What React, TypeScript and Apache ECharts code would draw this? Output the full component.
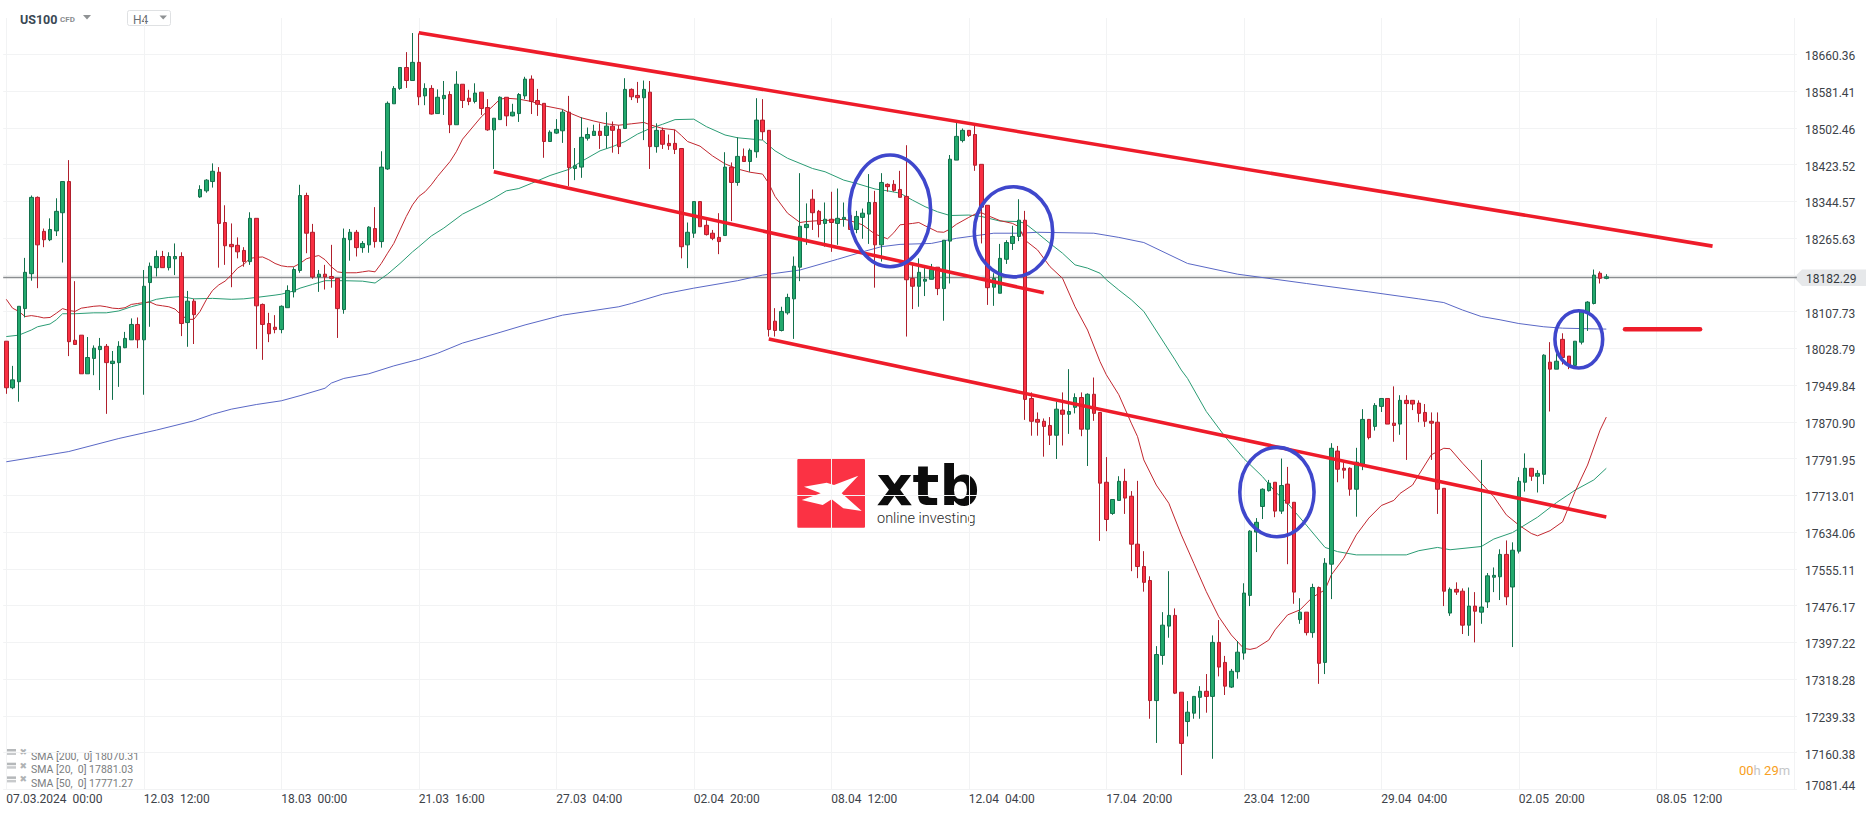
import React, { useEffect, useRef } from "react";
import * as echarts from "echarts";

const FONT = "Roboto, sans-serif";
const BAR_COUNT = 287;

const timeLabels = ["07.03.2024  00:00","12.03  12:00","18.03  00:00","21.03  16:00","27.03  04:00","02.04  20:00","08.04  12:00","12.04  04:00","17.04  20:00","23.04  12:00","29.04  04:00","02.05  20:00","08.05  12:00"];
const TIME_STEP = 22;

const gridValues = [17081.44,17160.38,17239.33,17318.28,17397.22,17476.17,17555.11,17634.06,17713.01,17791.95,17870.90,17949.84,18028.79,18107.73,18186.68,18265.63,18344.57,18423.52,18502.46,18581.41,18660.36];
const priceLabels = gridValues.filter((v) => v !== 18186.68);
const LAST_PRICE = 18182.29;

const opens = [18044,17944,17957,18114,18189,18353,18280,18262,18281,18320,
18387,18046,18057,17974,18007,18026,18033,17996,17998,18030,
18047,18080,18047,18170,18202,18226,18202,18221,18226,18084,
18130,18354,18367,18387,18407,18299,18252,18250,18239,18215,
18308,18123,18082,18074,18069,18116,18150,18196,18357,18278,
18182,18188,18183,18179,18112,18262,18278,18245,18251,18286,
18258,18414,18554,18587,18632,18604,18643,18571,18587,18533,
18565,18574,18509,18596,18566,18559,18579,18546,18498,18520,
18568,18528,18533,18571,18607,18561,18555,18473,18491,18496,
18536,18415,18418,18480,18486,18495,18486,18506,18499,18501,
18585,18572,18567,18579,18462,18497,18469,18469,18458,18251,
18276,18344,18293,18276,18267,18271,18418,18385,18441,18430,
18451,18519,18497,18087,18067,18105,18135,18203,18288,18349,
18323,18297,18306,18297,18306,18314,18284,18310,18317,18342,
18251,18381,18381,18370,18355,18179,18162,18173,18177,18203,
18157,18259,18433,18475,18497,18488,18424,18336,18160,18147,
18220,18254,18269,18304,17921,17876,17872,17863,17842,17896,
17887,17902,17923,17855,17930,17891,17741,17674,17702,17743,
17711,17608,17560,17530,17272,17369,17432,17455,17290,17227,
17245,17279,17292,17281,17397,17354,17301,17334,17374,17498,
17634,17689,17723,17741,17679,17737,17698,17446,17462,17418,
17515,17354,17565,17808,17771,17771,17726,17780,17876,17861,
17904,17921,17868,17866,17917,17917,17911,17891,17872,17870,
17728,17460,17511,17507,17434,17475,17462,17484,17537,17538,
17586,17516,17593,17741,17771,17754,17758,17999,17984,18048,
18012,17992,18042,18106,18125,18190,18179];

const closes = [17944,17961,18119,18192,18353,18251,18262,18284,18323,18387,
18043,18037,17974,18009,18029,18033,17998,18001,18033,18050,
18080,18047,18162,18205,18226,18202,18226,18226,18082,18130,
18101,18370,18390,18409,18297,18249,18247,18236,18215,18308,
18120,18080,18060,18069,18119,18153,18198,18357,18276,18182,
18188,18182,18179,18114,18265,18278,18245,18254,18289,18258,
18418,18555,18587,18632,18604,18643,18569,18587,18532,18568,
18572,18509,18596,18561,18559,18577,18544,18498,18523,18568,
18528,18536,18574,18607,18559,18553,18473,18493,18499,18536,
18417,18421,18482,18488,18495,18486,18506,18497,18462,18585,
18569,18567,18585,18462,18497,18467,18464,18456,18247,18278,
18344,18290,18273,18265,18258,18418,18385,18441,18430,18454,
18519,18494,18069,18067,18108,18138,18205,18291,18295,18320,
18295,18306,18299,18308,18310,18284,18312,18319,18342,18251,
18385,18376,18368,18353,18176,18162,18192,18177,18198,18157,
18261,18435,18484,18497,18486,18422,18332,18159,18179,18222,
18256,18269,18304,17919,17872,17870,17861,17842,17898,17887,
17893,17923,17855,17930,17889,17739,17661,17704,17743,17707,
17608,17560,17526,17272,17371,17434,17455,17288,17180,17247,
17281,17292,17281,17397,17344,17303,17335,17376,17503,17636,
17655,17726,17739,17679,17734,17696,17505,17462,17418,17515,
17352,17567,17814,17769,17767,17726,17784,17876,17837,17906,
17921,17866,17863,17917,17910,17909,17889,17872,17868,17726,
17507,17511,17505,17434,17475,17464,17473,17540,17541,17586,
17495,17595,17743,17771,17754,17760,18014,17984,18001,18009,
17992,18044,18108,18128,18186,18179,18182.29];

const lows = [17931,17941,17914,18095,18174,18158,18246,18259,18270,18213,
18012,18037,17974,17974,17971,17939,17888,17918,17946,18029,
18047,18029,17929,18075,18183,18202,18196,18186,18055,18032,
18038,18352,18363,18374,18202,18208,18160,18222,18204,18208,
18027,18004,18042,18061,18061,18116,18138,18191,18233,18178,
18150,18155,18159,18051,18103,18217,18226,18234,18234,18245,
18245,18412,18554,18584,18588,18604,18551,18551,18531,18533,
18530,18491,18509,18545,18551,18555,18530,18496,18414,18520,
18506,18527,18515,18564,18532,18528,18438,18473,18489,18470,
18377,18390,18395,18475,18486,18457,18458,18449,18446,18500,
18562,18556,18476,18414,18449,18457,18455,18446,18222,18201,
18266,18290,18271,18261,18231,18271,18302,18378,18430,18408,
18438,18476,18054,18054,18065,18101,18049,18173,18251,18283,
18267,18247,18236,18251,18290,18284,18276,18264,18253,18159,
18215,18365,18365,18353,18054,18113,18118,18141,18177,18143,
18088,18168,18433,18471,18483,18410,18254,18122,18120,18147,
18210,18240,18259,17875,17841,17841,17796,17821,17791,17820,
17845,17889,17840,17776,17873,17615,17636,17671,17702,17673,
17550,17535,17506,17233,17181,17349,17407,17286,17112,17195,
17233,17233,17246,17147,17324,17284,17299,17319,17360,17475,
17591,17662,17721,17666,17673,17565,17480,17437,17412,17407,
17308,17329,17490,17741,17749,17712,17667,17767,17833,17852,
17892,17866,17828,17843,17789,17896,17870,17860,17789,17673,
17475,17454,17499,17415,17411,17397,17437,17471,17505,17488,
17477,17387,17588,17721,17744,17719,17737,17893,17984,17994,
17984,17992,18037,18066,18123,18168,18177];

const highs = [18044,17991,18119,18223,18357,18355,18286,18308,18351,18387,
18433,18173,18057,18053,18035,18051,18038,18023,18044,18064,
18093,18095,18197,18213,18239,18238,18235,18254,18235,18152,
18135,18379,18392,18426,18418,18336,18297,18267,18246,18321,
18308,18125,18105,18100,18121,18164,18203,18380,18363,18296,
18197,18208,18251,18179,18286,18285,18283,18259,18291,18332,
18452,18559,18592,18632,18665,18706,18705,18598,18594,18585,
18603,18581,18624,18596,18584,18598,18579,18564,18523,18570,
18568,18554,18577,18612,18615,18586,18555,18497,18521,18542,
18571,18459,18525,18503,18509,18512,18536,18516,18508,18609,
18587,18601,18604,18603,18512,18503,18488,18498,18458,18299,
18344,18344,18304,18283,18319,18450,18428,18482,18458,18458,
18566,18564,18497,18115,18118,18146,18226,18405,18340,18370,
18326,18342,18365,18372,18342,18314,18324,18329,18403,18367,
18405,18383,18390,18410,18465,18208,18222,18201,18210,18203,
18261,18444,18516,18501,18497,18508,18424,18336,18190,18253,
18261,18292,18349,18324,17934,17891,17878,17881,17914,17934,
17984,17932,17934,17932,17966,17891,17795,17704,17754,17770,
17722,17744,17593,17539,17389,17462,17550,17470,17290,17271,
17281,17303,17329,17412,17445,17368,17340,17400,17524,17638,
17664,17728,17746,17741,17792,17774,17698,17492,17462,17523,
17517,17578,17825,17819,17784,17773,17815,17898,17877,17911,
17921,17921,17947,17928,17928,17917,17917,17909,17891,17891,
17728,17515,17526,17513,17515,17505,17789,17546,17558,17597,
17616,17612,17752,17803,17771,17767,18016,18042,18018,18061,
18012,18044,18108,18130,18198,18194,18188];

const sma20Points: number[][] = [[0,18134],[1,18115],[2,18108],[3,18097],[4,18099],[5,18097],[6,18094],[7,18095],[8,18104],[9,18114],[10,18110],[11,18108],[12,18115],[13,18117],[14,18119],[15,18120],[16,18118],[17,18115],[18,18114],[19,18116],[20,18123],[21,18125],[22,18127],[23,18128],[24,18122],[25,18120],[26,18118],[27,18113],[28,18100],[29,18091],[30,18091],[31,18108],[32,18133],[33,18153],[34,18165],[35,18173],[36,18186],[37,18201],[38,18209],[39,18222],[40,18224],[41,18225],[42,18219],[43,18211],[44,18206],[45,18204],[46,18204],[47,18211],[48,18221],[49,18225],[50,18228],[51,18219],[52,18204],[53,18193],[54,18191],[55,18191],[56,18191],[57,18193],[58,18195],[59,18193],[60,18211],[61,18233],[62,18254],[63,18283],[64,18312],[65,18337],[66,18355],[67,18365],[68,18380],[69,18398],[70,18414],[71,18430],[72,18451],[73,18478],[76,18526],[78,18551],[79,18564],[80,18566],[82,18564],[84,18559],[86,18550],[89,18542],[90,18535],[92,18524],[94,18517],[96,18511],[98,18508],[100,18511],[102,18514],[103,18509],[104,18505],[105,18501],[107,18498],[108,18486],[109,18473],[111,18463],[113,18442],[115,18425],[117,18414],[119,18407],[121,18403],[122,18383],[123,18355],[125,18319],[127,18299],[128,18301],[130,18303],[132,18304],[134,18306],[135,18303],[137,18294],[139,18274],[140,18269],[141,18264],[142,18277],[143,18294],[145,18297],[146,18299],[147,18292],[149,18279],[150,18278],[151,18285],[152,18295],[154,18310],[155,18317],[156,18320],[157,18314],[159,18303],[161,18297],[162,18290],[163,18261],[165,18240],[167,18204],[169,18179],[171,18118],[173,18068],[175,18000],[176,17972],[178,17929],[180,17868],[181,17839],[182,17789],[184,17735],[186,17696],[188,17628],[190,17567],[192,17506],[194,17452],[196,17413],[198,17384],[199,17382],[200,17385],[202,17402],[203,17424],[205,17456],[207,17467],[209,17494],[211,17510],[212,17542],[214,17578],[216,17628],[218,17664],[220,17691],[222,17702],[223,17717],[225,17735],[226,17757],[228,17800],[230,17814],[231,17813],[233,17782],[236,17739],[238,17710],[240,17671],[242,17649],[244,17631],[245,17626],[247,17637],[249,17656],[251,17721],[253,17778],[255,17853],[256,17881]];

const sma50Points: number[][] = [[0,18054],[2,18057],[4,18068],[5,18075],[7,18081],[8,18090],[9,18103],[11,18103],[14,18105],[16,18105],[18,18109],[20,18118],[22,18125],[24,18134],[26,18138],[28,18140],[30,18135],[33,18136],[36,18134],[38,18135],[40,18138],[43,18143],[44,18145],[46,18152],[47,18158],[49,18166],[51,18174],[54,18174],[57,18173],[59,18169],[61,18188],[63,18211],[65,18236],[66,18247],[68,18270],[70,18287],[73,18317],[76,18337],[78,18351],[80,18367],[82,18372],[84,18383],[87,18400],[90,18413],[92,18430],[95,18453],[97,18462],[99,18473],[101,18489],[103,18501],[105,18510],[107,18520],[110,18521],[112,18505],[115,18487],[117,18481],[121,18476],[123,18453],[125,18437],[127,18426],[129,18415],[131,18408],[134,18390],[136,18383],[139,18371],[141,18367],[143,18362],[145,18347],[147,18333],[149,18322],[151,18314],[154,18315],[156,18312],[159,18302],[162,18301],[163,18297],[165,18276],[167,18254],[169,18233],[171,18208],[173,18201],[175,18190],[176,18176],[178,18154],[180,18133],[182,18108],[187,18004],[188,17982],[189,17964],[192,17893],[195,17839],[198,17792],[201,17753],[203,17721],[205,17696],[208,17649],[210,17617],[211,17601],[213,17592],[216,17585],[224,17585],[226,17594],[229,17601],[231,17596],[236,17603],[238,17619],[241,17633],[245,17666],[248,17697],[251,17724],[254,17746],[256,17771]];

const sma200Points: number[][] = [[0,17785],[5,17796],[10,17807],[18,17835],[24,17853],[30,17873],[33,17887],[36,17898],[40,17908],[44,17916],[47,17927],[51,17943],[52,17954],[54,17964],[58,17974],[62,17991],[66,18005],[69,18018],[73,18040],[79,18063],[83,18079],[89,18100],[98,18118],[100,18125],[105,18145],[110,18158],[117,18174],[121,18186],[127,18197],[133,18220],[137,18236],[140,18247],[143,18252],[148,18254],[152,18265],[158,18276],[162,18276],[165,18278],[174,18276],[178,18267],[182,18256],[189,18211],[197,18188],[208,18168],[218,18150],[226,18135],[230,18127],[233,18111],[236,18097],[239,18090],[242,18082],[246,18075],[249,18072],[256,18070]];

const trendLines: number[][][] = [
  [[66,18706.8],[273,18248.2]],
  [[78,18408],[166,18147.9]],
  [[122,18048.8],[256,17666.5]],
];
const targetLine: number[][] = [[259,18069.7],[271,18069.7]];

// centre bar, centre price, centre offset in bars, radius in bars, radius in price
const circles: number[][] = [
  [141,18324,0.4,6.5,120],
  [161,18279,0.15,6.27,96.7],
  [203,17720,0.3,5.94,96],
  [252,18048,-0.4,3.82,61.4],
];

const legendRows = ["SMA [200,  0] 18070.31","SMA [20,  0] 17881.03","SMA [50,  0] 17771.27"];

const categories = Array.from({ length: BAR_COUNT }, (_, i) =>
  i % TIME_STEP === 0 ? timeLabels[i / TIME_STEP] ?? "" : ""
);
const candleData = opens.map((o, i) => [o, closes[i], lows[i], highs[i]]);

const RED = "#f92f42";
const RED_D = "#b01f2c";
const GREEN = "#23a96d";
const GREEN_D = "#12704c";

const lineSeries = (name: string, data: number[][], color: string, width: number, z: number, opacity = 1) => ({
  name, type: "line", data, z, showSymbol: false, symbol: "none", silent: true,
  lineStyle: { color, width, opacity }, itemStyle: { color }, clip: false,
});

export default function App() {
  const ref = useRef<HTMLDivElement>(null);
  useEffect(() => {
    document.documentElement.style.margin = "0";
    document.body.style.margin = "0";
    document.body.style.overflow = "hidden";
    const chart = echarts.init(ref.current!, null, { renderer: "svg" });
    const legendGraphics: any[] = [];
    legendRows.forEach((t, i) => {
      const y = 749 + i * 13.7;
      legendGraphics.push(
        { type: "rect", x: 6, y, shape: { width: 10, height: 2.5 }, style: { fill: "#b5b8ba" } },
        { type: "rect", x: 6, y: y + 3.5, shape: { width: 10, height: 2.5 }, style: { fill: "#c8cacc" } },
        { type: "text", x: 19.5, y: y + 3, style: { text: "✖", fill: "#b0b3b5", font: "9px 'DejaVu Sans'", verticalAlign: "middle" } },
        { type: "text", x: 31, y: y + 7, style: { text: t, fill: "#7a7d80", font: `10.5px ${FONT}`, verticalAlign: "middle" } },
      );
    });
    chart.setOption({
      animation: false,
      backgroundColor: "#ffffff",
      tooltip: { show: false },
      grid: { left: 3.175, width: 6.25 * BAR_COUNT, top: 18, bottom: 815 - 789.3, containLabel: false },
      xAxis: {
        type: "category", data: categories, boundaryGap: true,
        axisLine: { show: false }, axisTick: { show: false },
        axisLabel: {
          interval: (i: number) => i % TIME_STEP === 0, align: "left", margin: 4, color: "#3c4248",
          fontFamily: FONT, fontSize: 12, hideOverlap: false,
        },
        splitLine: {
          show: true, alignWithLabel: true, interval: (i: number) => i % TIME_STEP === 0,
          lineStyle: { color: "#f2f3f4", width: 1 },
        },
      },
      yAxis: {
        type: "value", position: "right", scale: true, min: 17081.44, max: 18738.3,
        axisLine: { show: false },
        axisTick: { show: false, customValues: gridValues },
        axisLabel: {
          customValues: priceLabels, margin: 8, color: "#3c4248", fontFamily: FONT, fontSize: 12,
          formatter: (v: number) => (v === 17081.44 ? `{m|${v.toFixed(2)}}` : `{a|${v.toFixed(2)}}`),
          rich: {
            a: { padding: [4, 0, 0, 0], fontFamily: FONT, fontSize: 12, color: "#3c4248" },
            m: { padding: [0, 0, 7, 0], fontFamily: FONT, fontSize: 12, color: "#3c4248" },
          },
        },
        splitLine: { show: true, lineStyle: { color: "#f2f3f4", width: 1 } },
      },
      series: [
        lineSeries("SMA 200", sma200Points, "#5a68c6", 1, 2),
        lineSeries("SMA 50", sma50Points, "#2a9c74", 1, 2),
        lineSeries("SMA 20", sma20Points, "#c2272f", 1, 2),
        {
          name: "US100", type: "candlestick", data: candleData, z: 3, barWidth: 4, clip: false, silent: true,
          itemStyle: { color: GREEN, color0: RED, borderColor: GREEN_D, borderColor0: RED_D, borderWidth: 1 },
          markLine: {
            silent: true, symbol: "none", animation: false, z: 1,
            lineStyle: { color: "#8b8e91", width: 1.4, type: "solid" },
            label: { show: false },
            data: [{ yAxis: LAST_PRICE }],
          },
        },
        ...trendLines.map((d, i) => lineSeries(`Trend ${i + 1}`, d, "#ee1c2a", 3.6, 4)),
        { ...lineSeries("Target", targetLine, "#ee1c2a", 4.6, 4), lineStyle: { color: "#ee1c2a", width: 4.6, cap: "round" } },
        {
          name: "Circles", type: "custom", z: 5, silent: true, clip: false,
          encode: { x: 0, y: 1 }, data: circles,
          renderItem: (_: any, api: any) => {
            const c = api.coord([api.value(0), api.value(1)]);
            const band = api.size([1, 0])[0];
            const ry = api.size([0, api.value(4) * 2], [api.value(0), api.value(1)])[1] / 2;
            return {
              type: "ellipse",
              shape: { cx: c[0] + api.value(2) * band, cy: c[1], rx: api.value(3) * band, ry },
              style: { fill: "none", stroke: "#3f47cc", lineWidth: 3.6 },
            };
          },
        },
      ],
      graphic: [
        { type: "text", x: 20, y: 19, style: { text: "US100", fill: "#3a4854", font: `bold 12.5px ${FONT}`, verticalAlign: "middle" } },
        { type: "text", x: 60, y: 19.5, style: { text: "CFD", fill: "#8a8d90", font: `bold 8px ${FONT}`, verticalAlign: "middle" } },
        { type: "polygon", shape: { points: [[83, 15], [91, 15], [87, 19.5]] }, style: { fill: "#8f9294" } },
        { type: "rect", x: 127.5, y: 10.5, shape: { width: 43, height: 15, r: 2 }, style: { fill: "#fff", stroke: "#dfe1e3", lineWidth: 1 } },
        { type: "text", x: 133, y: 20, style: { text: "H4", fill: "#6b7075", font: `12px ${FONT}`, verticalAlign: "middle" } },
        { type: "polygon", shape: { points: [[159.5, 15.5], [167, 15.5], [163.2, 19.5]] }, style: { fill: "#8f9294" } },
        ...legendGraphics,
        {
          type: "text", x: 1739, y: 770.7,
          style: {
            text: "{o|00}{g|h} {o|29}{g|m}", verticalAlign: "middle",
            rich: {
              o: { fill: "#f7a022", font: `13px ${FONT}`, fontSize: 13, fontFamily: FONT },
              g: { fill: "#c4c6c8", font: `13px ${FONT}`, fontSize: 13, fontFamily: FONT },
            },
          },
        },
        { type: "polygon", shape: { points: [[1794, 277.5], [1802, 269.5], [1866, 269.5], [1866, 286], [1802, 286]] }, style: { fill: "#e6e8ea" } },
        { type: "text", x: 1806, y: 278.5, style: { text: LAST_PRICE.toFixed(2), fill: "#33383d", font: `12px ${FONT}`, verticalAlign: "middle" } },
        // xtb logo
        { type: "rect", x: 790, y: 455, shape: { width: 195, height: 75 }, style: { fill: "#fff" } },
        { type: "rect", x: 797.3, y: 459, shape: { width: 67.7, height: 68.7, r: 1 }, style: { fill: "#fb3244" } },
        { type: "polygon", shape: { points: [[804,486.7],[826.7,482.7],[834,485],[858.3,475.7],[841.7,493.3],[861.7,511],[843.3,508.3],[831.7,499.3],[822.7,505],[801.7,500],[820.7,493.3]] }, style: { fill: "#fff" } },
        { type: "text", x: 876.5, y: 485, style: { text: "xtb", fill: "#0c0c0c", font: "bold 56px 'DejaVu Sans'", verticalAlign: "middle", lineHeight: 44 } },
        { type: "text", x: 877, y: 518, style: { text: "online investing", fill: "#2a2a2a", font: "300 14.5px Roboto", verticalAlign: "middle" } },
      ],
    });
    return () => chart.dispose();
  }, []);
  return <div ref={ref} style={{ width: 1866, height: 815 }} />;
}
